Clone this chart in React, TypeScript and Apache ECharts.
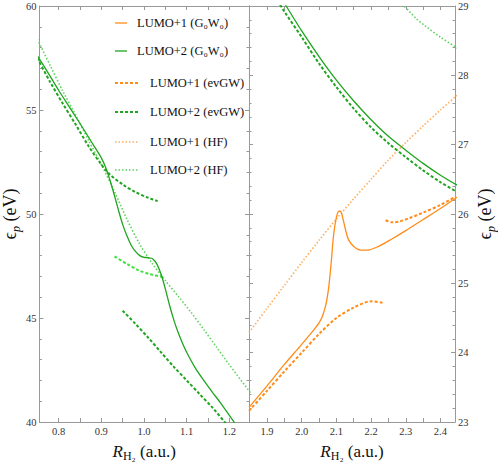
import React, { useEffect, useRef } from "react";
import * as echarts from "echarts";

// ---- data: [R (a.u.), energy (eV)] ----
// left panel
const leftG0W0L2 = [
  [0.75, 57.62], [0.775, 56.8], [0.8, 55.95], [0.825, 55.15], [0.85, 54.35], [0.87, 53.7],
  [0.885, 53.2], [0.9, 52.7], [0.91, 52.25], [0.92, 51.65], [0.93, 50.95], [0.94, 50.2],
  [0.95, 49.5], [0.96, 48.95], [0.97, 48.5], [0.98, 48.2], [0.99, 48.0], [1.0, 47.92],
  [1.01, 47.9], [1.02, 47.85], [1.03, 47.6], [1.04, 47.1], [1.05, 46.4], [1.06, 45.6],
  [1.07, 44.9], [1.08, 44.3], [1.09, 43.8], [1.1, 43.35], [1.12, 42.6], [1.14, 42.0],
  [1.16, 41.44], [1.18, 40.9], [1.2, 40.32], [1.22, 39.72],
];
const leftHFL2 = [
  [0.75, 58.41], [0.78, 57.15], [0.81, 55.9], [0.84, 54.75], [0.87, 53.55], [0.9, 52.38],
  [0.93, 51.12], [0.96, 49.75], [0.99, 48.55], [1.02, 47.6], [1.05, 46.8], [1.08, 46.05],
  [1.11, 45.28], [1.14, 44.45], [1.17, 43.6], [1.2, 42.75], [1.25, 41.39],
];
const leftEvGWL2Upper = [
  [0.75, 57.5], [0.78, 56.35], [0.81, 55.3], [0.84, 54.3], [0.87, 53.27], [0.9, 52.38],
  [0.92, 51.9], [0.95, 51.42], [0.98, 51.05], [1.01, 50.78], [1.032, 50.62],
];
const leftEvGWL2Mid = [
  [0.931, 47.96], [0.96, 47.6], [0.988, 47.29], [1.015, 47.1], [1.044, 46.97],
];
const leftEvGWL2Lower = [
  [0.95, 45.35], [0.98, 44.72], [1.01, 44.05], [1.04, 43.35], [1.07, 42.65], [1.1, 42.0],
  [1.13, 41.35], [1.16, 40.7], [1.19, 39.98], [1.2, 39.75],
];
// right panel
const rightG0W0L2 = [
  [1.94, 29.12], [1.96, 28.96], [2.0, 28.64], [2.05, 28.27], [2.1, 27.93], [2.15, 27.63],
  [2.2, 27.36], [2.25, 27.12], [2.3, 26.92], [2.35, 26.73], [2.4, 26.56], [2.45, 26.41],
];
const rightEvGWL2 = [
  [1.93, 29.08], [1.95, 28.92], [2.0, 28.55], [2.05, 28.17], [2.1, 27.83], [2.15, 27.52],
  [2.2, 27.25], [2.25, 27.02], [2.3, 26.82], [2.35, 26.63], [2.4, 26.46], [2.45, 26.31],
];
const rightHFL2 = [[2.29, 29.03], [2.33, 28.82], [2.357, 28.71], [2.4, 28.55], [2.45, 28.39]];
const rightHFL1 = [
  [1.848, 24.29], [1.9, 24.64], [1.95, 24.97], [2.0, 25.3], [2.05, 25.62], [2.1, 25.93],
  [2.15, 26.22], [2.2, 26.5], [2.25, 26.78], [2.3, 27.03], [2.35, 27.27], [2.4, 27.5], [2.45, 27.72],
];
const rightG0W0L1 = [
  [1.848, 23.21], [1.9, 23.52], [1.95, 23.83], [2.0, 24.12], [2.03, 24.3], [2.05, 24.43],
  [2.06, 24.53], [2.07, 24.7], [2.078, 24.95], [2.085, 25.3], [2.092, 25.7], [2.1, 25.95],
  [2.107, 26.04], [2.112, 26.04], [2.118, 25.95], [2.126, 25.78], [2.135, 25.63], [2.15, 25.53],
  [2.17, 25.48], [2.19, 25.48], [2.22, 25.53], [2.26, 25.64], [2.3, 25.76], [2.35, 25.92],
  [2.4, 26.08], [2.45, 26.25],
];
const rightEvGWL1Lower = [
  [1.848, 23.16], [1.9, 23.45], [1.95, 23.73], [2.0, 24.0], [2.05, 24.27], [2.1, 24.5],
  [2.15, 24.65], [2.2, 24.74], [2.233, 24.72],
];
const rightEvGWL1Upper = [
  [2.242, 25.91], [2.26, 25.88], [2.28, 25.89], [2.31, 25.94], [2.35, 26.02], [2.4, 26.13],
  [2.45, 26.27],
];

const legendLabels = [
  "LUMO+1 (G₀W₀)", "LUMO+2 (G₀W₀)", "LUMO+1 (evGW)", "LUMO+2 (evGW)", "LUMO+1 (HF)", "LUMO+2 (HF)",
];

const FONT = "Liberation Serif, DejaVu Serif, serif";
const ORANGE = "#ff8c1a";
const GREEN = "#1fa51f";
const ORANGE_HF = "#ffad5c";
const GREEN_HF = "#5ed35e";
const GREEN_BRIGHT = "#3fe03f";
const AXIS = "#999999";

const SOLID = 1.3;
const DASH: number[] = [3, 2];
const DOT: number[] = [1.5, 2];

function line(data: number[][], color: string, type: any, width: number, panel: number) {
  return {
    type: "line",
    data,
    xAxisIndex: panel === 0 ? 0 : 2,
    yAxisIndex: panel === 0 ? 0 : 2,
    showSymbol: false,
    smooth: 0.3,
    silent: true,
    lineStyle: { color, type, width },
  };
}

const xLabelFmt = (v: number) => {
  const t = Math.round(v * 1000);
  return t % 100 === 0 ? (t / 1000).toFixed(1) : "";
};

const tickCommon = {
  axisLine: { show: true, lineStyle: { color: AXIS, width: 1 } },
  axisTick: { show: true, inside: true, length: 4, lineStyle: { color: AXIS } },
  splitLine: { show: false },
};

const nameRichY = {
  e: { fontFamily: FONT, fontSize: 18, lineHeight: 24, verticalAlign: "middle", color: "#111" },
  p: { fontFamily: FONT, fontSize: 12, fontStyle: "italic", lineHeight: 14, verticalAlign: "bottom", color: "#111" },
  n: { fontFamily: FONT, fontSize: 18, lineHeight: 24, verticalAlign: "middle", color: "#111" },
};
const nameRichX = {
  r: { fontFamily: FONT, fontSize: 17, fontStyle: "italic", lineHeight: 22, verticalAlign: "middle", color: "#111" },
  s: { fontFamily: FONT, fontSize: 12, lineHeight: 14, verticalAlign: "bottom", color: "#111" },
  n: { fontFamily: FONT, fontSize: 17, lineHeight: 22, verticalAlign: "middle", color: "#111" },
};

function xAxis(grid: number, min: number, max: number, split: number, bottom: boolean) {
  return {
    gridIndex: grid,
    type: "value",
    min,
    max,
    splitNumber: split,
    position: bottom ? "bottom" : "top",
    ...tickCommon,
    axisLabel: bottom
      ? { show: true, formatter: xLabelFmt, color: "#333", fontFamily: FONT, fontSize: 10.5, margin: 4 }
      : { show: false },
    name: bottom ? "{r|R}{s|H₂}{n| (a.u.)}" : "",
    nameLocation: "middle",
    nameGap: 18,
    nameTextStyle: { rich: nameRichX },
  };
}

function yAxis(grid: number, min: number, max: number, interval: number, pos: string, labeled: boolean, gap: number) {
  return {
    gridIndex: grid,
    type: "value",
    min,
    max,
    interval,
    position: pos,
    ...tickCommon,
    minorTick: { show: true, splitNumber: 5, length: 2.5, lineStyle: { color: AXIS } },
    axisLabel: labeled
      ? { show: true, color: "#333", fontFamily: FONT, fontSize: 10.5, margin: 3 }
      : { show: false },
    name: labeled ? "{e|ϵ}{p|p}{n| (eV)}" : "",
    nameLocation: "middle",
    nameRotate: 90,
    nameGap: gap,
    nameTextStyle: { rich: nameRichY },
  };
}

function legendGraphics() {
  const rows = [
    { y: 23, x1: 115, x2: 127, tx: 137, color: ORANGE, dash: null, w: SOLID },
    { y: 51, x1: 115, x2: 127, tx: 137, color: GREEN, dash: null, w: SOLID },
    { y: 83, x1: 115, x2: 139, tx: 150, color: ORANGE, dash: DASH, w: 2 },
    { y: 112, x1: 115, x2: 139, tx: 150, color: GREEN, dash: DASH, w: 2 },
    { y: 142, x1: 115, x2: 139, tx: 150, color: ORANGE_HF, dash: DOT, w: 1.6 },
    { y: 170, x1: 115, x2: 139, tx: 150, color: GREEN_HF, dash: DOT, w: 1.6 },
  ];
  const els: any[] = [];
  rows.forEach((r, i) => {
    els.push({
      type: "line",
      silent: true,
      shape: { x1: r.x1, y1: r.y, x2: r.x2, y2: r.y },
      style: { stroke: r.color, lineWidth: r.w, lineDash: r.dash || undefined },
    });
    els.push({
      type: "text",
      silent: true,
      x: r.tx,
      y: r.y,
      style: {
        text: legendLabels[i],
        fill: "#111",
        fontFamily: FONT,
        fontSize: 12.5,
        align: "left",
        verticalAlign: "middle",
      },
    });
  });
  return els;
}

export default function App() {
  const ref = useRef<HTMLDivElement>(null);
  useEffect(() => {
    if (!ref.current) return;
    const chart = echarts.init(ref.current, null, { renderer: "svg" });
    chart.setOption({
      animation: false,
      backgroundColor: "#ffffff",
      textStyle: { fontFamily: FONT },
      grid: [
        { left: 39, top: 6, width: 210, height: 418 },
        { left: 249, top: 6, width: 209, height: 418 },
      ],
      xAxis: [
        xAxis(0, 0.755, 1.246, 10, true),
        xAxis(0, 0.755, 1.246, 10, false),
        xAxis(1, 1.848, 2.442, 12, true),
        xAxis(1, 1.848, 2.442, 12, false),
      ],
      yAxis: [
        yAxis(0, 40, 60, 5, "left", true, 14),
        yAxis(0, 40, 60, 5, "right", false, 0),
        yAxis(1, 23, 29, 1, "right", true, 18),
        yAxis(1, 23, 29, 1, "left", false, 0),
      ],
      series: [
        line(leftHFL2, GREEN_HF, DOT, 1.6, 0),
        line(leftEvGWL2Upper, GREEN, DASH, 2, 0),
        line(leftEvGWL2Mid, GREEN_BRIGHT, DASH, 2, 0),
        line(leftEvGWL2Lower, GREEN, DASH, 2, 0),
        line(leftG0W0L2, GREEN, "solid", SOLID, 0),
        line(rightHFL2, GREEN_HF, DOT, 1.6, 1),
        line(rightHFL1, ORANGE_HF, DOT, 1.6, 1),
        line(rightEvGWL2, GREEN, DASH, 2, 1),
        line(rightG0W0L2, GREEN, "solid", SOLID, 1),
        line(rightEvGWL1Lower, ORANGE, DASH, 2, 1),
        line(rightEvGWL1Upper, ORANGE, DASH, 2, 1),
        line(rightG0W0L1, ORANGE, "solid", SOLID, 1),
      ],
      graphic: legendGraphics(),
    });
    return () => chart.dispose();
  }, []);
  return (
    <div
      ref={ref}
      style={{ position: "absolute", left: 0, top: 0, width: 498, height: 467 }}
    />
  );
}
